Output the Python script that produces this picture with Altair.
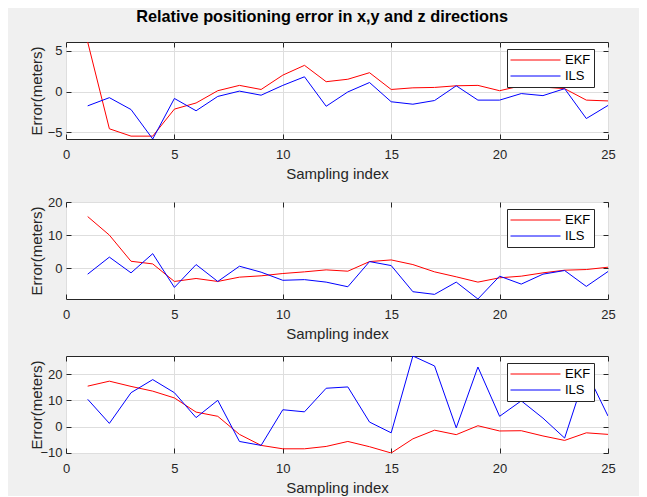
import altair as alt
import pandas as pd

# ---- data ----
sample_idx = list(range(1, 26))

ekf_x = [6.05, -4.55, -5.45, -5.45, -2.15, -1.4, 0.1, 0.75, 0.25, 2.0, 3.2, 1.2, 1.5,
         2.3, 0.25, 0.45, 0.5, 0.7, 0.75, 0.1, 0.7, 0.55, 0.35, -1.05, -1.15]
ils_x = [-1.75, -0.75, -2.2, -5.8, -0.85, -2.35, -0.6, 0.05, -0.45, 0.75, 1.8, -1.8, -0.05,
         1.1, -1.25, -1.55, -1.1, 0.7, -1.05, -1.05, -0.25, -0.5, 0.35, -3.3, -1.7]

ekf_y = [15.6, 10.0, 2.1, 1.3, -4.0, -3.1, -4.0, -2.7, -2.3, -1.6, -1.1, -0.5, -0.9,
         2.0, 2.5, 1.1, -1.1, -2.6, -4.2, -2.9, -2.4, -1.4, -0.6, -0.4, 0.3]
ils_y = [-1.8, 3.35, -1.4, 4.4, -5.8, 1.1, -4.0, 0.6, -1.2, -3.65, -3.45, -4.2, -5.6,
         2.0, 0.8, -7.1, -7.9, -4.2, -9.3, -2.4, -4.8, -1.8, -0.7, -5.5, -1.0]

ekf_z = [15.4, 17.3, 15.3, 13.5, 10.9, 5.5, 3.9, -3.0, -7.2, -8.5, -8.5, -7.6, -5.7,
         -7.7, -10.1, -4.7, -1.4, -3.1, 0.3, -1.7, -1.6, -3.6, -5.3, -2.4, -3.0]
ils_z = [10.4, 1.2, 12.9, 17.9, 12.9, 3.4, 10.0, -5.7, -7.2, 6.4, 5.6, 14.6, 15.1,
         1.7, -2.4, 26.9, 23.1, -0.5, 22.7, 3.9, 9.8, 3.2, -4.4, 21.0, 4.0]

series_names = ["EKF", "ILS"]
series_colors = ["#ff0000", "#0000ff"]

x_ticks = [0, 5, 10, 15, 20, 25]
y_domains = [[-5.8, 6.05], [-9.3, 20], [-10.1, 26.9]]
y_ticks = [[-5, 0, 5], [0, 10, 20], [-10, 0, 10, 20]]

FONT = "Liberation Sans"
TXT = "#262626"
W, H = 542, 97


def panel(ekf, ils, domain, ticks):
    df = pd.DataFrame({
        "idx": sample_idx * 2,
        "err": ekf + ils,
        "series": ["EKF"] * len(ekf) + ["ILS"] * len(ils),
    })
    xs = alt.Scale(domain=[0, 25], nice=False)
    ys = alt.Scale(domain=domain, nice=False, zero=False)
    base = alt.Chart(df)
    lines = base.mark_line(strokeWidth=1, clip=True).encode(
        x=alt.X("idx:Q", scale=xs,
                axis=alt.Axis(values=x_ticks, title="Sampling index", orient="bottom",
                              offset=-5, ticks=True, tickSize=5, labelPadding=9,
                              titlePadding=5, grid=True)),
        y=alt.Y("err:Q", scale=ys,
                axis=alt.Axis(values=ticks, title="Error(meters)", orient="left",
                              offset=-5, ticks=True, tickSize=5, labelPadding=4,
                              titleX=-35, titleY=H / 2, titleBaseline="middle",
                              grid=True)),
        color=alt.Color("series:N",
                        scale=alt.Scale(domain=series_names, range=series_colors),
                        legend=alt.Legend(
                            title=None, orient="none", legendX=441, legendY=7,
                            fillColor="white", strokeColor=TXT, padding=3,
                            symbolType="stroke", symbolSize=2500, symbolStrokeWidth=1,
                            labelFontSize=13, labelFont=FONT, labelColor="#000000",
                            labelOffset=4, clipHeight=16, rowPadding=0)),
        detail="series:N",
    )
    frame = base.mark_line(strokeOpacity=0).encode(
        x=alt.X("idx:Q", scale=xs,
                axis=alt.Axis(values=x_ticks, title=None, orient="top", labels=False,
                              offset=-5, ticks=True, tickSize=5, grid=False)),
        y=alt.Y("err:Q", scale=ys,
                axis=alt.Axis(values=ticks, title=None, orient="right", labels=False,
                              offset=-5, ticks=True, tickSize=5, grid=False)),
        detail="series:N",
    )
    return alt.layer(lines, frame).resolve_axis(x="independent", y="independent") \
        .properties(width=W, height=H)


chart = alt.vconcat(
    panel(ekf_x, ils_x, y_domains[0], y_ticks[0]),
    panel(ekf_y, ils_y, y_domains[1], y_ticks[1]),
    panel(ekf_z, ils_z, y_domains[2], y_ticks[2]),
    spacing=13,
).resolve_scale(
    color="independent"
).resolve_legend(
    color="independent"
).properties(
    title=alt.TitleParams(
        "Relative positioning error in x,y and z directions",
        fontSize=16.3, fontWeight="bold", font=FONT, color="#000000",
        anchor="middle", offset=16),
    background="#f0f0f0",
    padding={"top": 0, "left": 20, "right": 23, "bottom": 0},
).configure_view(
    fill="white", stroke=TXT, strokeWidth=1
).configure_axis(
    labelFont=FONT, titleFont=FONT, labelFontSize=13, titleFontSize=15,
    titleFontWeight="normal", labelColor=TXT, titleColor=TXT,
    tickColor=TXT, tickWidth=1, domain=False,
    gridColor="#dedede", gridWidth=1,
    labelFlush=False, labelOverlap=False
)

chart.save("out.html", embed_options={"renderer": "svg", "actions": False})
